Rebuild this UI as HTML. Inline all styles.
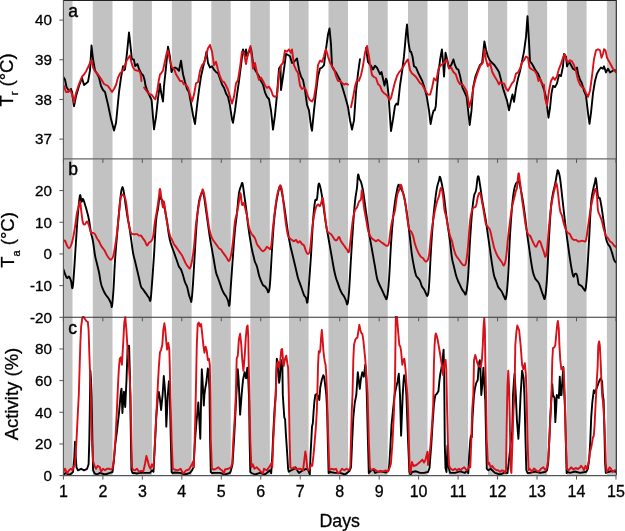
<!DOCTYPE html>
<html><head><meta charset="utf-8"><style>
html,body{margin:0;padding:0;background:#fff;}
body{width:625px;height:531px;overflow:hidden;}
svg{display:block;}
.t{font-family:"Liberation Sans",Arial,sans-serif;font-size:16px;fill:#000;stroke:#000;stroke-width:0.3px;}
.l{font-family:"Liberation Sans",Arial,sans-serif;font-size:18.5px;fill:#000;stroke:#000;stroke-width:0.3px;}
.p{font-family:"Liberation Sans",Arial,sans-serif;font-size:17.5px;fill:#000;stroke:#000;stroke-width:0.4px;}
</style></head><body>
<svg width="625" height="531" viewBox="0 0 625 531">
<defs>
<clipPath id="ca"><rect x="63.4" y="0.3" width="552.5799999999999" height="158.6"/></clipPath>
<clipPath id="cb"><rect x="63.4" y="158.9" width="552.5799999999999" height="158.4"/></clipPath>
<clipPath id="cc"><rect x="63.4" y="316.1" width="552.5799999999999" height="159.5"/></clipPath>
</defs>
<rect x="0" y="0" width="625" height="531" fill="#fff"/>
<rect x="63.50" y="0.3" width="9.00" height="475.30" fill="#c2c2c2"/>
<rect x="92.80" y="0.3" width="19.70" height="475.30" fill="#c2c2c2"/>
<rect x="132.80" y="0.3" width="19.10" height="475.30" fill="#c2c2c2"/>
<rect x="171.90" y="0.3" width="19.70" height="475.30" fill="#c2c2c2"/>
<rect x="211.30" y="0.3" width="19.40" height="475.30" fill="#c2c2c2"/>
<rect x="250.30" y="0.3" width="19.50" height="475.30" fill="#c2c2c2"/>
<rect x="289.00" y="0.3" width="19.60" height="475.30" fill="#c2c2c2"/>
<rect x="328.50" y="0.3" width="19.50" height="475.30" fill="#c2c2c2"/>
<rect x="368.00" y="0.3" width="19.70" height="475.30" fill="#c2c2c2"/>
<rect x="408.00" y="0.3" width="19.50" height="475.30" fill="#c2c2c2"/>
<rect x="448.60" y="0.3" width="19.40" height="475.30" fill="#c2c2c2"/>
<rect x="488.00" y="0.3" width="19.20" height="475.30" fill="#c2c2c2"/>
<rect x="527.60" y="0.3" width="19.55" height="475.30" fill="#c2c2c2"/>
<rect x="566.90" y="0.3" width="19.70" height="475.30" fill="#c2c2c2"/>
<rect x="606.90" y="0.3" width="9.08" height="475.30" fill="#c2c2c2"/>
<path d="M63.5 77.2 L65.0 79.7 L66.5 87.0 L69.0 91.0 L71.0 89.0 L72.0 92.0 L74.0 106.2 L76.0 96.3 L79.0 86.0 L82.0 78.0 L84.0 85.0 L86.0 83.4 L88.0 81.8 L90.0 70.4 L91.5 45.5 L93.0 59.0 L95.0 70.4 L97.0 73.5 L99.0 77.6 L101.0 86.0 L103.0 90.0 L105.0 92.0 L108.0 104.6 L111.0 119.0 L114.0 130.5 L116.0 123.0 L117.0 113.0 L119.0 92.0 L121.0 77.6 L123.0 66.3 L124.0 70.4 L125.0 69.4 L127.0 52.8 L129.0 32.5 L130.3 44.0 L131.9 59.4 L133.8 59.4 L135.2 66.0 L137.5 64.1 L138.9 68.8 L141.3 73.5 L143.2 75.4 L144.6 80.1 L145.5 85.7 L146.9 89.5 L148.8 94.2 L150.2 97.0 L151.6 100.0 L154.0 129.4 L156.0 117.0 L158.0 98.4 L160.0 83.9 L161.0 92.0 L163.0 101.5 L164.0 86.0 L166.0 67.3 L168.0 46.6 L170.0 57.0 L171.5 72.0 L173.0 68.6 L175.0 67.5 L177.0 68.6 L179.0 70.8 L181.0 60.7 L183.0 74.2 L185.0 82.0 L187.0 89.0 L189.0 92.3 L191.0 103.6 L193.0 115.0 L195.0 124.0 L197.0 105.9 L199.0 90.0 L201.0 76.5 L203.0 67.5 L205.0 59.5 L206.5 51.6 L208.0 63.0 L210.0 67.5 L212.0 66.3 L214.0 69.7 L216.0 72.0 L218.0 73.1 L220.0 78.8 L222.0 84.4 L224.0 87.8 L226.0 93.4 L228.0 96.8 L230.0 105.9 L232.0 119.4 L233.0 122.8 L235.0 110.4 L237.0 94.6 L239.0 81.0 L241.0 65.2 L243.0 49.4 L245.0 56.0 L246.0 49.4 L247.0 56.0 L249.0 51.6 L251.0 48.2 L253.0 63.0 L255.0 69.7 L257.0 73.1 L259.0 76.5 L261.0 81.0 L263.0 84.4 L265.0 92.3 L267.0 96.8 L269.0 99.0 L271.0 110.4 L273.0 129.6 L275.0 115.0 L277.0 94.6 L279.0 68.6 L280.5 66.3 L281.0 90.0 L283.0 76.5 L285.0 61.8 L286.0 53.9 L288.0 55.0 L290.0 56.2 L292.0 63.0 L294.0 61.8 L296.0 59.5 L297.0 58.4 L299.0 69.7 L301.0 76.5 L303.0 79.9 L305.0 90.0 L307.0 104.7 L309.0 110.4 L311.0 126.2 L312.0 130.7 L314.0 110.4 L316.0 92.3 L318.0 76.5 L320.0 68.6 L322.0 67.5 L324.0 65.2 L326.0 49.2 L328.0 34.5 L329.5 28.4 L331.0 44.3 L332.0 66.3 L334.0 70.0 L336.0 72.4 L338.0 76.1 L340.0 80.0 L342.0 86.0 L345.0 96.0 L348.0 107.0 L350.0 120.2 L352.0 129.5 L354.0 120.4 L356.0 92.0 L358.0 73.3 L360.0 59.2 M366.0 48.0 L368.0 62.0 L371.0 65.8 L373.0 69.5 L375.0 65.8 L377.0 67.7 L380.0 74.2 L381.5 72.0 L383.0 78.8 L384.5 85.5 L386.0 78.8 L387.0 81.0 L388.5 94.6 L390.0 117.0 L391.0 131.0 L393.0 119.4 L395.0 105.9 L396.5 103.6 L398.0 104.7 L400.0 85.5 L402.0 72.0 L404.0 56.2 L406.0 33.6 L407.0 24.5 L408.5 42.6 L410.0 51.6 L411.0 51.6 L412.5 56.5 L414.0 66.3 L416.0 67.5 L418.0 72.4 L420.0 76.5 L422.3 81.0 L424.5 87.8 L426.8 96.8 L429.0 110.4 L430.6 124.0 L432.4 114.9 L433.6 110.4 L434.7 110.4 L435.8 105.9 L437.0 87.8 L438.5 72.0 L440.3 58.4 L441.9 49.4 L443.3 65.2 L444.0 76.5 L444.9 63.0 L445.5 52.8 L447.1 59.5 L448.9 67.5 L451.2 65.2 L453.4 59.5 L455.0 65.2 L456.6 68.6 L458.4 69.7 L460.2 76.5 L462.5 87.8 L464.7 92.3 L466.6 96.8 L468.1 110.4 L469.7 125.0 L471.5 110.4 L473.1 87.8 L475.4 76.5 L477.6 70.8 L479.9 65.2 L482.1 63.0 L484.4 41.5 L486.0 49.4 L487.8 56.2 L490.0 60.7 L492.3 63.0 L494.6 65.2 L496.8 68.6 L499.0 72.0 L501.0 79.8 L503.0 88.3 L505.0 94.5 L507.0 100.6 L509.0 110.4 L511.0 100.6 L512.5 94.5 L514.0 101.8 L516.0 88.3 L518.0 78.5 L520.0 71.2 L522.0 61.4 L524.0 51.6 L526.0 36.9 L527.5 16.1 L529.0 41.8 L530.0 61.4 L532.0 63.9 L534.0 67.5 L536.0 71.2 L538.0 73.6 L540.0 78.5 L542.0 83.4 L544.0 89.6 L546.0 96.9 L547.5 110.0 L548.5 117.7 L550.0 108.0 L551.5 93.2 L553.0 85.9 L555.0 87.1 L557.0 83.4 L559.0 74.9 L561.0 76.1 L563.0 66.3 L564.0 54.0 L566.0 56.5 L567.0 66.3 L569.0 61.4 L571.0 65.0 L573.0 68.8 L575.0 70.0 L577.0 67.5 L578.0 73.6 L580.0 79.8 L582.0 83.4 L584.0 90.8 L586.0 95.7 L588.0 112.8 L589.5 123.8 L591.0 112.8 L593.0 93.2 L595.0 81.0 L597.0 73.6 L599.0 70.0 L601.0 67.5 L603.0 68.8 L604.0 66.3 L606.0 72.4 L608.0 68.8 L610.0 72.4 L612.0 71.2 L614.0 70.0 L616.0 70.7" fill="none" stroke="#000" stroke-width="1.9" stroke-linejoin="round" stroke-linecap="round" clip-path="url(#ca)"/>
<path d="M63.5 85.0 L66.0 92.0 L68.0 92.0 L70.0 90.0 L72.0 94.0 L74.0 102.5 L76.0 93.0 L79.0 84.0 L82.0 76.6 L84.0 74.5 L86.0 71.4 L88.0 67.3 L90.0 63.0 L91.5 60.0 L93.0 67.3 L95.0 71.4 L98.0 74.5 L101.0 78.7 L104.0 84.0 L106.0 85.0 L108.0 86.0 L110.0 89.0 L112.0 92.0 L114.0 89.0 L116.0 85.0 L118.0 77.6 L120.0 73.5 L121.0 72.5 L123.0 70.4 L125.0 65.2 L127.0 60.0 L129.0 57.0 L130.0 55.6 L131.4 62.2 L132.8 66.9 L134.7 69.8 L137.1 70.7 L138.9 70.7 L140.3 73.0 L141.1 77.3 L141.4 81.0 M144.1 87.6 L145.5 89.5 L147.4 92.3 L149.8 94.2 L152.1 95.2 L154.0 98.0 L155.4 99.4 L157.3 90.5 L158.7 81.0 L160.0 74.5 L161.0 73.5 L163.0 70.4 L165.0 61.0 L167.0 51.8 L168.0 50.7 L170.0 61.0 L172.0 67.5 L174.0 68.6 L176.0 74.2 L178.0 77.6 L180.0 81.0 L182.0 81.0 L184.0 84.4 L186.0 84.4 L188.0 87.8 L190.0 94.6 L192.0 101.4 L194.0 94.6 L196.0 83.3 L198.0 82.1 L200.0 70.8 L202.0 65.2 L204.0 63.0 L206.0 56.2 L208.0 48.2 L210.0 44.9 L212.0 51.6 L214.0 65.2 L216.0 61.8 L218.0 69.7 L220.0 76.5 L222.0 81.0 L224.0 82.1 L226.0 85.5 L228.0 90.0 L230.0 96.8 L232.0 103.6 L234.0 96.8 L236.0 83.3 L238.0 79.9 L240.0 67.5 L242.0 51.6 L244.0 52.8 L246.0 64.0 L247.0 58.4 L249.0 50.5 L250.5 46.0 L252.0 58.4 L253.0 68.6 L255.0 63.0 L257.0 73.1 L259.0 79.9 L261.0 77.6 L263.0 81.0 L265.0 85.5 L267.0 87.8 L269.0 86.7 L271.0 90.0 L273.0 95.7 L275.0 96.8 L277.0 95.7 L279.0 74.2 L281.0 65.2 L283.0 63.0 L285.0 50.5 L287.0 51.6 L289.0 49.4 L291.0 52.8 L292.0 49.4 L294.0 65.2 L296.0 69.7 L298.0 73.1 L300.0 85.5 L302.0 89.0 L304.0 87.8 L306.0 90.0 L308.0 96.8 L310.0 100.2 L312.0 101.4 L314.0 98.0 L316.0 85.5 L318.0 65.2 L320.0 60.7 L322.0 61.8 L324.0 56.2 L325.0 51.6 L326.0 49.2 L328.0 56.5 L330.0 62.6 L332.0 66.3 L334.0 68.8 L336.0 76.1 L338.0 81.0 L340.0 81.0 L342.0 82.7 L344.0 84.6 L346.0 83.7 L348.0 84.6 M351.0 107.2 L353.0 97.8 L355.0 86.5 L357.0 79.9 L359.0 80.8 L361.0 75.2 L363.0 65.8 L365.0 52.6 L367.0 46.0 L369.0 56.4 L370.0 63.9 L372.0 75.0 L374.0 77.0 L376.0 78.0 L378.0 84.0 L380.0 85.9 L382.0 90.8 L384.0 93.2 L386.0 94.5 L388.0 96.8 L389.5 100.2 L391.0 98.0 L393.0 90.0 L395.0 82.1 L397.0 76.0 L399.0 72.4 L401.0 70.0 L403.0 67.0 L405.0 63.5 L407.0 60.5 L408.0 59.5 L410.0 70.0 L412.0 73.5 L414.0 75.0 L416.0 77.0 L418.0 79.9 L420.0 83.0 L422.0 84.5 L424.0 88.0 L426.0 92.0 L428.0 94.5 L430.2 94.6 L432.0 88.0 L434.0 78.3 L436.3 80.6 L438.5 68.6 L440.8 65.2 L442.6 64.0 L444.9 61.8 L446.7 59.5 L448.9 68.6 L451.2 67.5 L453.4 72.0 L455.7 74.2 L458.0 81.0 L460.2 84.4 L462.5 84.4 L464.7 87.8 L467.0 92.3 L469.3 107.0 L471.5 99.0 L473.8 85.5 L476.0 77.6 L478.3 70.8 L480.5 65.2 L482.8 63.0 L484.4 49.4 L486.0 59.5 L487.8 66.3 L490.0 63.0 L492.3 72.0 L494.6 76.5 L496.8 79.9 L499.0 84.4 L500.0 82.2 L502.0 83.4 L504.0 83.4 L506.0 88.3 L508.0 90.8 L510.0 87.1 L512.0 83.4 L514.0 81.0 L516.0 73.6 L518.0 72.4 L520.0 68.8 L522.0 62.6 L524.0 60.2 L526.0 56.5 L528.0 57.7 L529.5 67.5 L531.0 68.8 L533.0 70.0 L535.0 71.2 L537.0 74.9 L538.5 81.0 L540.0 78.5 L542.0 84.7 L544.0 84.7 L545.0 98.1 L547.0 105.5 L549.0 90.8 L551.0 81.0 L553.0 77.3 L555.0 79.8 L557.0 76.1 L559.0 68.8 L561.0 63.9 L563.0 57.7 L564.5 54.0 L566.0 59.0 L568.0 62.6 L570.0 60.2 L572.0 61.4 L574.0 65.0 L576.0 71.2 L578.0 79.8 L580.0 84.7 L582.0 87.1 L584.0 88.3 L586.0 93.2 L588.0 96.9 L590.0 90.8 L592.0 76.1 L594.0 59.0 L596.0 50.4 L598.0 49.2 L600.0 50.4 L601.5 57.7 L603.0 54.0 L604.0 49.2 L605.5 50.4 L607.0 57.7 L609.0 61.4 L611.0 65.0 L613.0 68.8 L616.0 72.4" fill="none" stroke="#d8101a" stroke-width="1.9" stroke-linejoin="round" stroke-linecap="round" clip-path="url(#ca)"/>
<path d="M63.50 269.50 C63.80 270.36 64.30 272.10 65.00 273.80 C65.70 275.50 66.20 277.44 67.00 278.00 C67.80 278.56 68.20 276.04 69.00 276.60 C69.80 277.16 70.30 278.54 71.00 280.80 C71.70 283.06 71.90 289.60 72.50 287.90 C73.10 286.20 73.30 281.62 74.00 272.30 C74.70 262.98 75.20 253.16 76.00 241.30 C76.80 229.44 77.20 222.16 78.00 213.00 C78.80 203.84 79.30 197.76 80.00 195.50 C80.70 193.24 80.90 201.02 81.50 201.70 C82.10 202.38 82.30 198.34 83.00 198.90 C83.70 199.46 84.20 201.96 85.00 204.50 C85.80 207.04 86.20 208.50 87.00 211.60 C87.80 214.70 88.20 215.76 89.00 220.00 C89.80 224.24 90.20 228.54 91.00 232.80 C91.80 237.06 92.20 236.78 93.00 241.30 C93.80 245.82 94.20 250.88 95.00 255.40 C95.80 259.92 96.20 260.52 97.00 263.90 C97.80 267.28 98.20 268.36 99.00 272.30 C99.80 276.24 100.20 280.20 101.00 283.60 C101.80 287.00 102.20 287.32 103.00 289.30 C103.80 291.28 104.20 292.08 105.00 293.50 C105.80 294.92 106.20 295.26 107.00 296.40 C107.80 297.54 108.20 297.80 109.00 299.20 C109.80 300.60 110.40 302.00 111.00 303.40 C111.60 304.80 111.50 309.02 112.00 306.20 C112.50 303.38 112.90 298.34 113.50 289.30 C114.10 280.26 114.30 271.74 115.00 261.00 C115.70 250.26 116.20 245.20 117.00 235.60 C117.80 226.00 118.20 221.48 119.00 213.00 C119.80 204.52 120.30 198.40 121.00 193.20 C121.70 188.00 121.90 187.00 122.50 187.00 C123.10 187.00 123.30 189.12 124.00 193.20 C124.70 197.28 125.20 202.04 126.00 207.40 C126.80 212.76 127.40 216.62 128.00 220.00 C128.60 223.38 128.40 220.62 129.00 224.30 C129.60 227.98 130.20 232.74 131.00 238.40 C131.80 244.06 132.20 248.08 133.00 252.60 C133.80 257.12 134.20 257.62 135.00 261.00 C135.80 264.38 136.20 266.10 137.00 269.50 C137.80 272.90 138.20 274.60 139.00 278.00 C139.80 281.40 140.20 284.24 141.00 286.50 C141.80 288.76 142.20 288.18 143.00 289.30 C143.80 290.42 144.20 290.96 145.00 292.10 C145.80 293.24 146.20 293.86 147.00 295.00 C147.80 296.14 148.30 296.80 149.00 297.80 C149.70 298.80 149.90 302.84 150.50 300.00 C151.10 297.16 151.30 292.52 152.00 283.60 C152.70 274.68 153.20 267.82 154.00 255.40 C154.80 242.98 155.20 230.82 156.00 221.50 C156.80 212.18 157.30 213.60 158.00 208.80 C158.70 204.00 158.90 199.48 159.50 197.50 C160.10 195.52 160.30 198.06 161.00 198.90 C161.70 199.74 162.20 199.44 163.00 201.70 C163.80 203.96 164.20 206.24 165.00 210.20 C165.80 214.16 166.20 216.42 167.00 221.50 C167.80 226.58 168.20 231.08 169.00 235.60 C169.80 240.12 170.20 241.28 171.00 244.10 C171.80 246.92 172.20 247.44 173.00 249.70 C173.80 251.96 174.20 253.14 175.00 255.40 C175.80 257.66 176.20 258.74 177.00 261.00 C177.80 263.26 178.20 265.00 179.00 266.70 C179.80 268.40 180.20 267.80 181.00 269.50 C181.80 271.20 182.20 272.66 183.00 275.20 C183.80 277.74 184.20 279.94 185.00 282.20 C185.80 284.46 186.20 283.94 187.00 286.50 C187.80 289.06 188.30 292.46 189.00 295.00 C189.70 297.54 190.00 298.08 190.50 299.20 C191.00 300.32 191.00 303.72 191.50 300.60 C192.00 297.48 192.30 293.78 193.00 283.60 C193.70 273.42 194.20 262.68 195.00 249.70 C195.80 236.72 196.20 228.30 197.00 218.70 C197.80 209.10 198.20 206.50 199.00 201.70 C199.80 196.90 200.30 196.68 201.00 194.70 C201.70 192.72 201.90 191.52 202.50 191.80 C203.10 192.08 203.30 192.42 204.00 196.10 C204.70 199.78 205.20 204.56 206.00 210.20 C206.80 215.84 207.20 218.66 208.00 224.30 C208.80 229.94 209.20 233.32 210.00 238.40 C210.80 243.48 211.20 245.18 212.00 249.70 C212.80 254.22 213.20 256.48 214.00 261.00 C214.80 265.52 215.20 268.90 216.00 272.30 C216.80 275.70 217.20 275.74 218.00 278.00 C218.80 280.26 219.20 281.34 220.00 283.60 C220.80 285.86 221.20 287.32 222.00 289.30 C222.80 291.28 223.20 292.08 224.00 293.50 C224.80 294.92 225.20 294.98 226.00 296.40 C226.80 297.82 227.30 298.92 228.00 300.60 C228.70 302.28 228.90 308.20 229.50 304.80 C230.10 301.40 230.30 293.48 231.00 283.60 C231.70 273.72 232.20 266.12 233.00 255.40 C233.80 244.68 234.20 238.48 235.00 230.00 C235.80 221.52 236.20 220.36 237.00 213.00 C237.80 205.64 238.20 198.56 239.00 193.20 C239.80 187.84 240.30 188.16 241.00 186.20 C241.70 184.24 241.90 182.00 242.50 183.40 C243.10 184.80 243.30 188.40 244.00 193.20 C244.70 198.00 245.20 201.18 246.00 207.40 C246.80 213.62 247.20 218.10 248.00 224.30 C248.80 230.50 249.20 233.32 250.00 238.40 C250.80 243.48 251.20 245.74 252.00 249.70 C252.80 253.66 253.40 255.74 254.00 258.20 C254.60 260.66 254.40 260.30 255.00 262.00 C255.60 263.70 256.20 264.06 257.00 266.70 C257.80 269.34 258.20 272.38 259.00 275.20 C259.80 278.02 260.20 278.82 261.00 280.80 C261.80 282.78 262.20 283.96 263.00 285.10 C263.80 286.24 264.20 285.66 265.00 286.50 C265.80 287.34 266.30 288.18 267.00 289.30 C267.70 290.42 267.90 293.24 268.50 292.10 C269.10 290.96 269.30 292.08 270.00 283.60 C270.70 275.12 271.20 262.12 272.00 249.70 C272.80 237.28 273.20 230.54 274.00 221.50 C274.80 212.46 275.20 210.16 276.00 204.50 C276.80 198.84 277.20 196.86 278.00 193.20 C278.80 189.54 279.20 186.20 280.00 186.20 C280.80 186.20 281.20 189.54 282.00 193.20 C282.80 196.86 283.20 199.40 284.00 204.50 C284.80 209.60 285.20 213.04 286.00 218.70 C286.80 224.36 287.20 227.72 288.00 232.80 C288.80 237.88 289.20 240.14 290.00 244.10 C290.80 248.06 291.20 249.22 292.00 252.60 C292.80 255.98 293.20 257.62 294.00 261.00 C294.80 264.38 295.20 266.10 296.00 269.50 C296.80 272.90 297.20 275.18 298.00 278.00 C298.80 280.82 299.20 281.34 300.00 283.60 C300.80 285.86 301.20 287.02 302.00 289.30 C302.80 291.58 303.20 293.30 304.00 295.00 C304.80 296.70 305.30 296.40 306.00 297.80 C306.70 299.20 306.90 304.84 307.50 302.00 C308.10 299.16 308.30 292.92 309.00 283.60 C309.70 274.28 310.20 267.82 311.00 255.40 C311.80 242.98 312.20 232.24 313.00 221.50 C313.80 210.76 314.20 206.22 315.00 201.70 C315.80 197.18 316.30 202.28 317.00 198.90 C317.70 195.52 317.90 187.38 318.50 184.80 C319.10 182.22 319.30 183.74 320.00 186.00 C320.70 188.26 321.20 191.26 322.00 196.10 C322.80 200.94 323.20 204.56 324.00 210.20 C324.80 215.84 325.20 219.22 326.00 224.30 C326.80 229.38 327.20 231.08 328.00 235.60 C328.80 240.12 329.20 242.38 330.00 246.90 C330.80 251.42 331.20 253.68 332.00 258.20 C332.80 262.72 333.20 265.54 334.00 269.50 C334.80 273.46 335.20 275.18 336.00 278.00 C336.80 280.82 337.20 281.34 338.00 283.60 C338.80 285.86 339.20 287.32 340.00 289.30 C340.80 291.28 341.20 292.08 342.00 293.50 C342.80 294.92 343.20 294.98 344.00 296.40 C344.80 297.82 345.30 299.08 346.00 300.60 C346.70 302.12 346.90 305.70 347.50 304.00 C348.10 302.30 348.30 301.26 349.00 292.10 C349.70 282.94 350.20 271.20 351.00 258.20 C351.80 245.20 352.20 238.40 353.00 227.10 C353.80 215.80 354.20 209.60 355.00 201.70 C355.80 193.80 356.40 192.96 357.00 187.60 C357.60 182.24 357.50 176.60 358.00 174.90 C358.50 173.20 358.90 177.68 359.50 179.10 C360.10 180.52 360.30 179.74 361.00 182.00 C361.70 184.26 362.20 185.90 363.00 190.40 C363.80 194.90 364.20 198.84 365.00 204.50 C365.80 210.16 366.20 213.04 367.00 218.70 C367.80 224.36 368.20 227.72 369.00 232.80 C369.80 237.88 370.20 239.58 371.00 244.10 C371.80 248.62 372.20 250.88 373.00 255.40 C373.80 259.92 374.20 262.18 375.00 266.70 C375.80 271.22 376.20 274.62 377.00 278.00 C377.80 281.38 378.20 281.62 379.00 283.60 C379.80 285.58 380.20 286.20 381.00 287.90 C381.80 289.60 382.20 290.40 383.00 292.10 C383.80 293.80 384.20 295.26 385.00 296.40 C385.80 297.54 386.20 301.08 387.00 297.80 C387.80 294.52 388.20 290.74 389.00 280.00 C389.80 269.26 390.20 256.36 391.00 244.10 C391.80 231.84 392.20 227.18 393.00 218.70 C393.80 210.22 394.20 207.36 395.00 201.70 C395.80 196.04 396.30 193.78 397.00 190.40 C397.70 187.02 397.90 185.36 398.50 184.80 C399.10 184.24 399.30 186.48 400.00 187.60 C400.70 188.72 401.20 188.70 402.00 190.40 C402.80 192.10 403.20 192.70 404.00 196.10 C404.80 199.50 405.20 202.32 406.00 207.40 C406.80 212.48 407.20 215.30 408.00 221.50 C408.80 227.70 409.20 231.62 410.00 238.40 C410.80 245.18 411.20 249.74 412.00 255.40 C412.80 261.06 413.20 262.74 414.00 266.70 C414.80 270.66 415.20 272.94 416.00 275.20 C416.80 277.46 417.20 276.88 418.00 278.00 C418.80 279.12 419.20 279.10 420.00 280.80 C420.80 282.50 421.20 284.80 422.00 286.50 C422.80 288.20 423.20 287.90 424.00 289.30 C424.80 290.70 425.30 292.26 426.00 293.50 C426.70 294.74 426.90 296.90 427.50 295.50 C428.10 294.10 428.30 295.66 429.00 286.50 C429.70 277.34 430.20 262.70 431.00 249.70 C431.80 236.70 432.20 231.10 433.00 221.50 C433.80 211.90 434.20 208.48 435.00 201.70 C435.80 194.92 436.20 191.84 437.00 187.60 C437.80 183.36 438.40 182.64 439.00 180.50 C439.60 178.36 439.40 176.04 440.00 176.90 C440.60 177.76 441.20 180.96 442.00 184.80 C442.80 188.64 443.20 190.46 444.00 196.10 C444.80 201.74 445.20 206.80 446.00 213.00 C446.80 219.20 447.20 221.44 448.00 227.10 C448.80 232.76 449.20 235.08 450.00 241.30 C450.80 247.52 451.20 253.12 452.00 258.20 C452.80 263.28 453.20 263.30 454.00 266.70 C454.80 270.10 455.20 272.38 456.00 275.20 C456.80 278.02 457.20 278.82 458.00 280.80 C458.80 282.78 459.20 283.40 460.00 285.10 C460.80 286.80 461.20 287.90 462.00 289.30 C462.80 290.70 463.20 291.26 464.00 292.10 C464.80 292.94 465.20 296.32 466.00 293.50 C466.80 290.68 467.20 288.44 468.00 278.00 C468.80 267.56 469.20 254.30 470.00 241.30 C470.80 228.30 471.20 222.04 472.00 213.00 C472.80 203.96 473.20 200.62 474.00 196.10 C474.80 191.58 475.20 194.36 476.00 190.40 C476.80 186.44 477.20 177.42 478.00 176.30 C478.80 175.18 479.20 180.28 480.00 184.80 C480.80 189.32 481.20 193.82 482.00 198.90 C482.80 203.98 483.20 205.68 484.00 210.20 C484.80 214.72 485.20 216.42 486.00 221.50 C486.80 226.58 487.20 229.96 488.00 235.60 C488.80 241.24 489.20 244.04 490.00 249.70 C490.80 255.36 491.20 258.80 492.00 263.90 C492.80 269.00 493.20 271.82 494.00 275.20 C494.80 278.58 495.20 278.54 496.00 280.80 C496.80 283.06 497.20 284.80 498.00 286.50 C498.80 288.20 499.20 288.18 500.00 289.30 C500.80 290.42 501.20 290.68 502.00 292.10 C502.80 293.52 503.20 295.26 504.00 296.40 C504.80 297.54 505.20 301.48 506.00 297.80 C506.80 294.12 507.20 290.44 508.00 278.00 C508.80 265.56 509.20 249.72 510.00 235.60 C510.80 221.48 511.20 216.44 512.00 207.40 C512.80 198.36 513.20 195.20 514.00 190.40 C514.80 185.60 515.20 185.08 516.00 183.40 C516.80 181.72 517.40 182.28 518.00 182.00 C518.60 181.72 518.40 180.32 519.00 182.00 C519.60 183.68 520.20 186.46 521.00 190.40 C521.80 194.34 522.20 196.62 523.00 201.70 C523.80 206.78 524.20 209.58 525.00 215.80 C525.80 222.02 526.20 226.58 527.00 232.80 C527.80 239.02 528.20 241.26 529.00 246.90 C529.80 252.54 530.20 255.92 531.00 261.00 C531.80 266.08 532.20 268.90 533.00 272.30 C533.80 275.70 534.20 276.30 535.00 278.00 C535.80 279.70 536.20 279.68 537.00 280.80 C537.80 281.92 538.20 281.90 539.00 283.60 C539.80 285.30 540.20 287.02 541.00 289.30 C541.80 291.58 542.20 293.30 543.00 295.00 C543.80 296.70 544.20 301.20 545.00 297.80 C545.80 294.40 546.20 289.88 547.00 278.00 C547.80 266.12 548.20 252.52 549.00 238.40 C549.80 224.28 550.20 216.44 551.00 207.40 C551.80 198.36 552.20 197.72 553.00 193.20 C553.80 188.68 554.20 188.74 555.00 184.80 C555.80 180.86 556.40 176.34 557.00 173.50 C557.60 170.66 557.40 169.70 558.00 170.60 C558.60 171.50 559.20 173.12 560.00 178.00 C560.80 182.88 561.20 188.00 562.00 195.00 C562.80 202.00 563.20 206.00 564.00 213.00 C564.80 220.00 565.20 223.60 566.00 230.00 C566.80 236.40 567.20 239.20 568.00 245.00 C568.80 250.80 569.20 253.80 570.00 259.00 C570.80 264.20 571.30 267.48 572.00 271.00 C572.70 274.52 572.90 276.04 573.50 276.60 C574.10 277.16 574.30 274.08 575.00 273.80 C575.70 273.52 576.30 273.24 577.00 275.20 C577.70 277.16 577.90 281.62 578.50 283.60 C579.10 285.58 579.30 284.52 580.00 285.10 C580.70 285.68 581.20 285.66 582.00 286.50 C582.80 287.34 583.30 288.70 584.00 289.30 C584.70 289.90 584.90 292.32 585.50 289.50 C586.10 286.68 586.30 284.84 587.00 275.20 C587.70 265.56 588.20 255.44 589.00 241.30 C589.80 227.16 590.20 214.68 591.00 204.50 C591.80 194.32 592.20 194.90 593.00 190.40 C593.80 185.90 594.40 184.26 595.00 182.00 C595.60 179.74 595.40 176.28 596.00 179.10 C596.60 181.92 597.20 192.14 598.00 196.10 C598.80 200.06 599.20 196.08 600.00 198.90 C600.80 201.72 601.20 205.12 602.00 210.20 C602.80 215.28 603.20 218.66 604.00 224.30 C604.80 229.94 605.20 234.44 606.00 238.40 C606.80 242.36 607.20 242.40 608.00 244.10 C608.80 245.80 609.20 245.20 610.00 246.90 C610.80 248.60 611.20 250.06 612.00 252.60 C612.80 255.14 613.20 257.62 614.00 259.60 C614.80 261.58 615.60 261.92 616.00 262.50" fill="none" stroke="#000" stroke-width="1.9" stroke-linejoin="round" stroke-linecap="round" clip-path="url(#cb)"/>
<path d="M63.50 241.30 C63.80 241.18 64.30 239.86 65.00 240.70 C65.70 241.54 66.20 243.98 67.00 245.50 C67.80 247.02 68.20 248.30 69.00 248.30 C69.80 248.30 70.20 247.48 71.00 245.50 C71.80 243.52 72.20 242.08 73.00 238.40 C73.80 234.72 74.20 232.18 75.00 227.10 C75.80 222.02 76.30 216.94 77.00 213.00 C77.70 209.06 77.90 209.66 78.50 207.40 C79.10 205.14 79.40 200.58 80.00 201.70 C80.60 202.82 80.90 208.76 81.50 213.00 C82.10 217.24 82.30 220.64 83.00 222.90 C83.70 225.16 84.20 224.58 85.00 224.30 C85.80 224.02 86.20 221.22 87.00 221.50 C87.80 221.78 88.20 223.44 89.00 225.70 C89.80 227.96 90.20 231.38 91.00 232.80 C91.80 234.22 92.20 232.52 93.00 232.80 C93.80 233.08 94.20 233.08 95.00 234.20 C95.80 235.32 96.20 236.98 97.00 238.40 C97.80 239.82 98.20 239.88 99.00 241.30 C99.80 242.72 100.20 244.10 101.00 245.50 C101.80 246.90 102.20 247.16 103.00 248.30 C103.80 249.44 104.20 249.78 105.00 251.20 C105.80 252.62 106.20 254.00 107.00 255.40 C107.80 256.80 108.20 257.36 109.00 258.20 C109.80 259.04 110.20 259.88 111.00 259.60 C111.80 259.32 112.20 259.34 113.00 256.80 C113.80 254.26 114.20 251.70 115.00 246.90 C115.80 242.10 116.20 239.58 117.00 232.80 C117.80 226.02 118.30 219.78 119.00 213.00 C119.70 206.22 119.90 202.56 120.50 198.90 C121.10 195.24 121.30 195.26 122.00 194.70 C122.70 194.14 123.20 194.70 124.00 196.10 C124.80 197.50 125.20 197.18 126.00 201.70 C126.80 206.22 127.40 213.90 128.00 218.70 C128.60 223.50 128.40 222.88 129.00 225.70 C129.60 228.52 130.20 231.10 131.00 232.80 C131.80 234.50 132.20 233.92 133.00 234.20 C133.80 234.48 134.20 234.20 135.00 234.20 C135.80 234.20 136.20 233.92 137.00 234.20 C137.80 234.48 138.20 235.32 139.00 235.60 C139.80 235.88 140.20 235.04 141.00 235.60 C141.80 236.16 142.20 237.26 143.00 238.40 C143.80 239.54 144.20 239.88 145.00 241.30 C145.80 242.72 146.20 245.22 147.00 245.50 C147.80 245.78 148.20 243.54 149.00 242.70 C149.80 241.86 150.20 242.44 151.00 241.30 C151.80 240.16 152.20 240.96 153.00 237.00 C153.80 233.04 154.20 226.86 155.00 221.50 C155.80 216.14 156.20 215.28 157.00 210.20 C157.80 205.12 158.40 200.34 159.00 196.10 C159.60 191.86 159.50 188.44 160.00 189.00 C160.50 189.56 160.90 195.22 161.50 198.90 C162.10 202.58 162.50 206.84 163.00 207.40 C163.50 207.96 163.40 200.02 164.00 201.70 C164.60 203.38 165.20 210.72 166.00 215.80 C166.80 220.88 167.20 223.14 168.00 227.10 C168.80 231.06 169.20 233.04 170.00 235.60 C170.80 238.16 171.20 238.20 172.00 239.90 C172.80 241.60 173.20 242.70 174.00 244.10 C174.80 245.50 175.20 245.78 176.00 246.90 C176.80 248.02 177.20 248.56 178.00 249.70 C178.80 250.84 179.20 251.46 180.00 252.60 C180.80 253.74 181.20 254.00 182.00 255.40 C182.80 256.80 183.20 257.90 184.00 259.60 C184.80 261.30 185.20 262.48 186.00 263.90 C186.80 265.32 187.20 265.86 188.00 266.70 C188.80 267.54 189.20 269.24 190.00 268.10 C190.80 266.96 191.20 265.24 192.00 261.00 C192.80 256.76 193.20 254.24 194.00 246.90 C194.80 239.56 195.20 231.64 196.00 224.30 C196.80 216.96 197.20 215.28 198.00 210.20 C198.80 205.12 199.20 202.58 200.00 198.90 C200.80 195.22 201.40 193.60 202.00 191.80 C202.60 190.00 202.40 188.48 203.00 189.90 C203.60 191.32 204.20 194.28 205.00 198.90 C205.80 203.52 206.20 207.36 207.00 213.00 C207.80 218.64 208.20 222.58 209.00 227.10 C209.80 231.62 210.20 233.04 211.00 235.60 C211.80 238.16 212.20 238.48 213.00 239.90 C213.80 241.32 214.20 241.58 215.00 242.70 C215.80 243.82 216.20 244.38 217.00 245.50 C217.80 246.62 218.20 247.46 219.00 248.30 C219.80 249.14 220.20 248.84 221.00 249.70 C221.80 250.56 222.20 251.46 223.00 252.60 C223.80 253.74 224.20 254.28 225.00 255.40 C225.80 256.52 226.20 257.08 227.00 258.20 C227.80 259.32 228.20 261.56 229.00 261.00 C229.80 260.44 230.20 259.34 231.00 255.40 C231.80 251.46 232.20 248.08 233.00 241.30 C233.80 234.52 234.20 227.16 235.00 221.50 C235.80 215.84 236.20 216.96 237.00 213.00 C237.80 209.04 238.30 205.66 239.00 201.70 C239.70 197.74 239.90 192.64 240.50 193.20 C241.10 193.76 241.40 202.52 242.00 204.50 C242.60 206.48 242.90 202.52 243.50 203.10 C244.10 203.68 244.30 204.86 245.00 207.40 C245.70 209.94 246.20 211.86 247.00 215.80 C247.80 219.74 248.20 223.70 249.00 227.10 C249.80 230.50 250.20 231.10 251.00 232.80 C251.80 234.50 252.20 234.48 253.00 235.60 C253.80 236.72 254.20 236.70 255.00 238.40 C255.80 240.10 256.20 242.40 257.00 244.10 C257.80 245.80 258.20 245.78 259.00 246.90 C259.80 248.02 260.20 248.84 261.00 249.70 C261.80 250.56 262.20 251.20 263.00 251.20 C263.80 251.20 264.20 250.56 265.00 249.70 C265.80 248.84 266.20 247.18 267.00 246.90 C267.80 246.62 268.20 248.30 269.00 248.30 C269.80 248.30 270.20 251.14 271.00 246.90 C271.80 242.66 272.20 234.44 273.00 227.10 C273.80 219.76 274.20 216.40 275.00 210.20 C275.80 204.00 276.20 200.34 277.00 196.10 C277.80 191.86 278.30 191.16 279.00 189.00 C279.70 186.84 279.90 185.02 280.50 185.30 C281.10 185.58 281.30 185.98 282.00 190.40 C282.70 194.82 283.20 200.62 284.00 207.40 C284.80 214.18 285.20 218.66 286.00 224.30 C286.80 229.94 287.20 232.78 288.00 235.60 C288.80 238.42 289.20 237.54 290.00 238.40 C290.80 239.26 291.20 239.32 292.00 239.90 C292.80 240.48 293.20 241.30 294.00 241.30 C294.80 241.30 295.20 239.62 296.00 239.90 C296.80 240.18 297.20 242.42 298.00 242.70 C298.80 242.98 299.20 241.02 300.00 241.30 C300.80 241.58 301.20 243.26 302.00 244.10 C302.80 244.94 303.20 244.08 304.00 245.50 C304.80 246.92 305.20 249.50 306.00 251.20 C306.80 252.90 307.20 254.30 308.00 254.00 C308.80 253.70 309.20 254.50 310.00 249.70 C310.80 244.90 311.20 236.78 312.00 230.00 C312.80 223.22 313.20 220.32 314.00 215.80 C314.80 211.28 315.20 209.66 316.00 207.40 C316.80 205.14 317.20 204.78 318.00 204.50 C318.80 204.22 319.30 206.56 320.00 206.00 C320.70 205.44 320.90 203.12 321.50 201.70 C322.10 200.28 322.30 196.08 323.00 198.90 C323.70 201.72 324.20 209.58 325.00 215.80 C325.80 222.02 326.20 226.60 327.00 230.00 C327.80 233.40 328.20 231.96 329.00 232.80 C329.80 233.64 330.20 233.36 331.00 234.20 C331.80 235.04 332.20 235.86 333.00 237.00 C333.80 238.14 334.20 239.32 335.00 239.90 C335.80 240.48 336.20 240.48 337.00 239.90 C337.80 239.32 338.20 236.72 339.00 237.00 C339.80 237.28 340.20 239.88 341.00 241.30 C341.80 242.72 342.20 242.98 343.00 244.10 C343.80 245.22 344.20 245.78 345.00 246.90 C345.80 248.02 346.20 248.84 347.00 249.70 C347.80 250.56 348.20 254.02 349.00 251.20 C349.80 248.38 350.20 242.10 351.00 235.60 C351.80 229.10 352.20 223.78 353.00 218.70 C353.80 213.62 354.20 212.46 355.00 210.20 C355.80 207.94 356.20 209.10 357.00 207.40 C357.80 205.70 358.20 203.40 359.00 201.70 C359.80 200.00 360.40 201.16 361.00 198.90 C361.60 196.64 361.40 188.70 362.00 190.40 C362.60 192.10 363.20 201.74 364.00 207.40 C364.80 213.06 365.20 214.18 366.00 218.70 C366.80 223.22 367.20 226.62 368.00 230.00 C368.80 233.38 369.20 233.92 370.00 235.60 C370.80 237.28 371.20 237.54 372.00 238.40 C372.80 239.26 373.20 239.32 374.00 239.90 C374.80 240.48 375.20 241.30 376.00 241.30 C376.80 241.30 377.20 239.90 378.00 239.90 C378.80 239.90 379.20 240.74 380.00 241.30 C380.80 241.86 381.20 242.14 382.00 242.70 C382.80 243.26 383.20 243.54 384.00 244.10 C384.80 244.66 385.20 245.22 386.00 245.50 C386.80 245.78 387.40 246.06 388.00 245.50 C388.60 244.94 388.40 246.38 389.00 242.70 C389.60 239.02 390.20 232.18 391.00 227.10 C391.80 222.02 392.20 220.68 393.00 217.30 C393.80 213.92 394.20 214.44 395.00 210.20 C395.80 205.96 396.20 200.06 397.00 196.10 C397.80 192.14 398.20 192.66 399.00 190.40 C399.80 188.14 400.20 184.24 401.00 184.80 C401.80 185.36 402.20 189.82 403.00 193.20 C403.80 196.58 404.20 197.18 405.00 201.70 C405.80 206.22 406.20 210.42 407.00 215.80 C407.80 221.18 408.20 225.48 409.00 228.60 C409.80 231.72 410.20 230.00 411.00 231.40 C411.80 232.80 412.20 233.06 413.00 235.60 C413.80 238.14 414.20 241.28 415.00 244.10 C415.80 246.92 416.20 247.72 417.00 249.70 C417.80 251.68 418.20 252.58 419.00 254.00 C419.80 255.42 420.20 255.96 421.00 256.80 C421.80 257.64 422.20 257.36 423.00 258.20 C423.80 259.04 424.20 260.44 425.00 261.00 C425.80 261.56 426.20 262.12 427.00 261.00 C427.80 259.88 428.20 260.48 429.00 255.40 C429.80 250.32 430.20 242.38 431.00 235.60 C431.80 228.82 432.20 226.58 433.00 221.50 C433.80 216.42 434.20 214.16 435.00 210.20 C435.80 206.24 436.20 204.52 437.00 201.70 C437.80 198.88 438.20 198.92 439.00 196.10 C439.80 193.28 440.20 187.60 441.00 187.60 C441.80 187.60 442.30 191.58 443.00 196.10 C443.70 200.62 443.90 206.26 444.50 210.20 C445.10 214.14 445.30 212.42 446.00 215.80 C446.70 219.18 447.20 223.14 448.00 227.10 C448.80 231.06 449.20 232.76 450.00 235.60 C450.80 238.44 451.20 238.48 452.00 241.30 C452.80 244.12 453.20 246.88 454.00 249.70 C454.80 252.52 455.20 253.70 456.00 255.40 C456.80 257.10 457.20 257.08 458.00 258.20 C458.80 259.32 459.20 259.86 460.00 261.00 C460.80 262.14 461.20 263.04 462.00 263.90 C462.80 264.76 463.20 265.58 464.00 265.30 C464.80 265.02 465.20 266.18 466.00 262.50 C466.80 258.82 467.20 255.10 468.00 246.90 C468.80 238.70 469.20 228.84 470.00 221.50 C470.80 214.16 471.20 213.02 472.00 210.20 C472.80 207.38 473.20 208.24 474.00 207.40 C474.80 206.56 475.20 208.26 476.00 206.00 C476.80 203.74 477.20 198.66 478.00 196.10 C478.80 193.54 479.20 192.08 480.00 193.20 C480.80 194.32 481.20 197.74 482.00 201.70 C482.80 205.66 483.20 208.48 484.00 213.00 C484.80 217.52 485.20 221.48 486.00 224.30 C486.80 227.12 487.20 225.96 488.00 227.10 C488.80 228.24 489.20 227.74 490.00 230.00 C490.80 232.26 491.20 235.02 492.00 238.40 C492.80 241.78 493.20 244.06 494.00 246.90 C494.80 249.74 495.20 250.62 496.00 252.60 C496.80 254.58 497.20 255.40 498.00 256.80 C498.80 258.20 499.20 258.46 500.00 259.60 C500.80 260.74 501.20 261.36 502.00 262.50 C502.80 263.64 503.20 266.16 504.00 265.30 C504.80 264.44 505.20 263.58 506.00 258.20 C506.80 252.82 507.20 245.74 508.00 238.40 C508.80 231.06 509.20 227.70 510.00 221.50 C510.80 215.30 511.20 211.92 512.00 207.40 C512.80 202.88 513.20 202.30 514.00 198.90 C514.80 195.50 515.40 192.66 516.00 190.40 C516.60 188.14 516.50 190.98 517.00 187.60 C517.50 184.22 517.90 174.62 518.50 173.50 C519.10 172.38 519.30 176.92 520.00 182.00 C520.70 187.08 521.20 192.70 522.00 198.90 C522.80 205.10 523.20 207.36 524.00 213.00 C524.80 218.64 525.20 222.86 526.00 227.10 C526.80 231.34 527.20 232.50 528.00 234.20 C528.80 235.90 529.20 234.46 530.00 235.60 C530.80 236.74 531.20 238.20 532.00 239.90 C532.80 241.60 533.20 242.70 534.00 244.10 C534.80 245.50 535.20 247.18 536.00 246.90 C536.80 246.62 537.20 243.82 538.00 242.70 C538.80 241.58 539.20 240.46 540.00 241.30 C540.80 242.14 541.20 244.64 542.00 246.90 C542.80 249.16 543.30 250.62 544.00 252.60 C544.70 254.58 544.90 257.38 545.50 256.80 C546.10 256.22 546.30 255.64 547.00 249.70 C547.70 243.76 548.20 235.56 549.00 227.10 C549.80 218.64 550.20 213.60 551.00 207.40 C551.80 201.20 552.20 200.06 553.00 196.10 C553.80 192.14 554.30 190.14 555.00 187.60 C555.70 185.06 555.90 182.28 556.50 183.40 C557.10 184.52 557.30 187.88 558.00 193.20 C558.70 198.52 559.20 205.48 560.00 210.00 C560.80 214.52 561.20 212.94 562.00 215.80 C562.80 218.66 563.20 221.46 564.00 224.30 C564.80 227.14 565.20 228.30 566.00 230.00 C566.80 231.70 567.20 231.96 568.00 232.80 C568.80 233.64 569.20 233.08 570.00 234.20 C570.80 235.32 571.20 237.26 572.00 238.40 C572.80 239.54 573.20 239.60 574.00 239.90 C574.80 240.20 575.20 239.62 576.00 239.90 C576.80 240.18 577.20 241.02 578.00 241.30 C578.80 241.58 579.20 241.42 580.00 241.30 C580.80 241.18 581.20 240.70 582.00 240.70 C582.80 240.70 583.20 241.46 584.00 241.30 C584.80 241.14 585.20 242.74 586.00 239.90 C586.80 237.06 587.20 232.48 588.00 227.10 C588.80 221.72 589.20 218.08 590.00 213.00 C590.80 207.92 591.20 205.66 592.00 201.70 C592.80 197.74 593.30 195.74 594.00 193.20 C594.70 190.66 594.90 188.42 595.50 189.00 C596.10 189.58 596.50 191.86 597.00 196.10 C597.50 200.34 597.40 206.26 598.00 210.20 C598.60 214.14 599.20 213.54 600.00 215.80 C600.80 218.06 601.20 218.66 602.00 221.50 C602.80 224.34 603.20 227.18 604.00 230.00 C604.80 232.82 605.20 233.92 606.00 235.60 C606.80 237.28 607.20 237.26 608.00 238.40 C608.80 239.54 609.20 240.44 610.00 241.30 C610.80 242.16 611.20 241.86 612.00 242.70 C612.80 243.54 613.20 244.66 614.00 245.50 C614.80 246.34 615.60 246.62 616.00 246.90" fill="none" stroke="#d8101a" stroke-width="1.9" stroke-linejoin="round" stroke-linecap="round" clip-path="url(#cb)"/>
<path d="M63.5 474.5 L66.0 472.9 L68.0 474.5 L70.0 474.5 L72.0 472.9 L73.0 472.0 L74.3 458.0 L75.0 441.7 L75.8 458.0 L76.5 467.3 L78.0 470.3 L81.1 468.8 L84.1 470.3 L87.1 468.8 L88.6 464.3 L89.3 440.2 L89.8 410.0 L90.1 385.0 L90.4 370.7 L90.9 378.0 L91.6 395.0 L92.4 440.0 L93.1 470.3 L94.6 473.3 L97.0 474.5 L100.0 472.9 L105.0 474.5 L110.0 472.9 L112.5 472.0 L113.8 462.0 L115.2 445.0 L116.9 431.6 L119.0 413.0 L120.9 391.7 L121.5 388.6 L122.4 413.0 L123.9 391.7 L125.2 407.0 L126.5 380.0 L127.6 348.7 L128.4 346.0 L129.1 345.7 L129.9 375.0 L130.6 420.0 L131.4 470.0 L132.5 473.0 L134.0 472.9 L137.0 473.5 L140.0 472.9 L145.0 472.9 L150.0 472.9 L152.0 470.3 L153.5 471.8 L155.0 443.2 L156.2 417.6 L158.0 395.0 L158.8 392.0 L159.8 398.0 L161.1 410.0 L162.6 395.0 L163.8 376.0 L164.8 387.3 L165.6 400.0 L166.3 426.6 L167.8 395.0 L168.9 381.3 L169.8 395.0 L170.8 440.0 L171.6 472.0 L172.5 473.0 L175.0 472.5 L180.0 472.9 L185.0 474.5 L190.0 472.9 L192.0 470.3 L193.5 467.3 L195.0 440.2 L196.2 425.1 L197.3 413.0 L198.3 402.5 L199.6 425.1 L200.3 438.7 L200.9 410.0 L201.3 390.0 L201.8 369.2 L202.4 378.0 L203.3 395.0 L203.8 405.5 L204.4 395.0 L205.3 388.0 L206.3 382.8 L207.8 368.5 L208.6 372.0 L209.5 390.0 L210.1 440.0 L210.8 472.0 L212.0 473.0 L215.0 472.9 L220.0 472.9 L225.0 474.5 L230.0 472.9 L231.0 470.3 L232.5 464.3 L234.0 440.2 L235.2 417.6 L236.3 395.0 L237.8 369.2 L238.6 379.8 L239.3 395.0 L240.1 414.6 L241.6 395.0 L243.0 380.0 L244.6 372.2 L246.1 378.3 L247.3 367.7 L248.3 379.8 L249.1 400.0 L249.6 440.0 L250.3 472.0 L251.5 473.0 L255.0 474.5 L260.0 472.9 L265.0 474.5 L270.0 470.3 L271.2 473.3 L272.3 455.2 L273.3 432.6 L274.5 410.0 L275.7 395.0 L276.8 358.7 L277.9 363.2 L279.1 382.8 L279.8 378.3 L281.3 360.2 L282.4 367.7 L282.8 395.0 L284.3 417.6 L285.1 419.1 L285.8 432.6 L287.3 455.2 L288.1 468.8 L288.8 471.8 L291.1 470.3 L294.1 468.8 L295.6 467.3 L297.1 470.3 L299.0 472.9 L303.0 470.3 L306.0 468.8 L308.3 470.3 L309.8 474.8 L310.5 455.2 L311.3 440.2 L312.0 426.6 L312.8 423.6 L313.5 413.0 L314.3 402.5 L315.3 395.0 L316.5 394.0 L318.1 396.0 L319.3 400.0 L320.3 387.3 L321.8 379.8 L323.3 375.2 L324.1 376.7 L325.3 385.8 L326.3 395.0 L327.1 410.0 L327.8 440.2 L328.6 473.0 L330.0 472.0 L335.0 472.9 L340.0 472.9 L345.0 474.5 L349.5 471.0 L351.0 467.3 L352.2 440.2 L353.3 417.6 L354.8 402.5 L356.3 395.0 L357.8 372.2 L358.9 381.3 L359.8 388.8 L360.8 379.8 L362.3 372.2 L363.8 376.7 L364.6 370.7 L365.3 364.7 L366.1 375.2 L366.8 395.0 L367.9 440.2 L368.8 473.0 L370.6 471.0 L373.6 469.5 L375.0 472.9 L380.0 471.3 L386.0 472.5 L388.5 470.5 L389.3 464.3 L390.3 447.7 L391.5 425.1 L393.0 410.0 L394.6 395.0 L396.0 388.0 L397.5 382.0 L398.8 373.7 L400.0 395.0 L401.1 435.6 L402.7 395.0 L403.5 382.0 L404.1 375.2 L405.6 382.8 L406.4 395.0 L407.3 420.0 L408.1 441.9 L409.4 471.6 L410.5 474.7 L412.0 472.0 L416.0 471.3 L420.0 472.9 L424.0 472.9 L428.0 472.0 L429.5 468.0 L430.5 455.0 L431.3 445.0 L432.5 425.0 L433.9 405.0 L434.7 398.8 L435.4 395.0 L436.5 394.3 L438.4 391.3 L439.5 380.0 L440.3 374.0 L441.5 368.0 L442.5 360.0 L443.6 349.6 L444.1 370.0 L444.4 400.0 L444.8 445.0 L445.5 468.0 L446.5 472.0 L447.5 445.5 L448.5 466.7 L450.0 472.9 L455.0 472.9 L460.0 471.3 L465.0 472.9 L467.3 470.3 L468.3 473.3 L469.2 455.2 L470.3 440.2 L471.0 435.7 L471.8 437.2 L472.5 417.6 L474.0 395.0 L475.0 388.0 L476.3 382.8 L477.8 379.8 L478.9 363.2 L479.8 360.2 L480.4 367.7 L481.3 395.0 L482.3 385.0 L483.4 367.7 L484.3 382.8 L484.9 395.0 L485.3 400.0 L486.1 440.2 L486.8 468.8 L488.4 470.3 L490.6 468.8 L495.0 472.9 L500.0 474.5 L504.0 472.9 L505.0 472.5 L507.5 473.0 L509.0 460.0 L510.5 445.0 L511.4 436.0 L512.2 432.0 L513.0 395.0 L514.0 380.0 L514.6 373.7 L515.8 395.0 L516.9 420.0 L518.4 438.8 L519.5 420.0 L520.6 395.0 L522.1 370.7 L523.6 378.0 L524.4 395.0 L525.5 440.0 L526.3 470.0 L527.5 473.0 L530.0 472.9 L535.0 471.5 L540.0 472.9 L545.0 472.0 L547.0 470.3 L548.2 462.8 L549.3 440.2 L550.3 417.6 L551.3 400.0 L552.3 384.3 L553.0 395.0 L554.6 398.0 L555.3 422.1 L556.1 410.0 L556.8 395.0 L558.8 398.0 L559.8 376.7 L560.6 395.0 L561.5 395.0 L562.4 380.0 L563.3 367.0 L564.3 395.0 L565.1 410.0 L565.8 440.2 L566.6 473.0 L568.0 472.0 L570.0 472.9 L575.0 471.5 L580.0 472.9 L585.0 472.0 L586.3 471.8 L587.8 468.8 L589.3 458.3 L590.3 440.2 L591.2 417.6 L592.3 402.5 L593.8 390.3 L594.6 393.0 L596.0 390.0 L597.5 386.0 L599.1 381.3 L600.6 378.3 L602.1 381.3 L602.8 395.0 L603.6 400.0 L604.3 425.1 L605.1 462.8 L605.8 473.0 L608.0 472.0 L612.0 471.0 L616.5 472.0" fill="none" stroke="#000" stroke-width="1.9" stroke-linejoin="round" stroke-linecap="round" clip-path="url(#cc)"/>
<path d="M63.5 471.8 L65.0 468.7 L67.0 473.4 L69.0 470.3 L71.0 468.7 L72.5 470.3 L73.5 467.0 L75.0 464.3 L76.5 440.2 L78.0 410.0 L78.8 395.0 L80.3 345.0 L81.1 327.0 L82.3 318.0 L83.3 316.5 L84.8 318.8 L86.3 321.0 L87.8 321.8 L88.6 330.0 L89.3 352.7 L90.1 375.0 L90.8 395.0 L91.9 440.0 L93.1 461.3 L94.6 465.8 L96.1 468.8 L97.6 465.8 L99.9 467.3 L101.0 471.8 L103.0 468.7 L105.0 470.3 L107.0 468.7 L109.5 468.8 L111.0 469.5 L112.5 468.5 L114.0 458.0 L115.5 438.0 L116.9 410.0 L118.0 385.0 L118.9 368.0 L119.8 358.7 L120.8 357.2 L121.9 364.8 L123.1 345.0 L124.3 322.5 L125.3 317.3 L126.4 330.0 L127.3 345.0 L129.1 367.8 L130.6 395.0 L131.4 440.0 L132.1 467.3 L133.0 470.0 L135.0 470.3 L137.0 468.7 L139.0 471.8 L141.0 470.9 L143.3 471.5 L145.0 464.0 L146.4 456.0 L147.5 459.8 L149.0 465.8 L150.5 468.8 L152.0 464.3 L153.5 467.3 L155.0 440.2 L156.2 417.6 L157.3 395.0 L158.8 367.7 L159.9 352.7 L161.1 349.6 L162.3 345.0 L163.3 330.0 L164.4 323.3 L165.3 330.0 L166.3 342.0 L167.1 349.6 L168.3 342.9 L169.3 349.6 L169.8 367.7 L170.4 395.0 L171.6 440.0 L172.8 468.8 L174.6 469.5 L177.6 470.3 L180.6 468.8 L183.0 473.4 L185.0 471.8 L186.0 470.3 L189.0 469.5 L192.0 464.3 L193.2 461.3 L193.8 467.3 L194.7 440.2 L195.3 417.6 L195.8 395.0 L196.8 345.0 L197.7 324.0 L198.8 322.5 L199.9 326.3 L201.1 324.0 L202.3 334.6 L203.3 345.0 L204.4 352.7 L205.6 346.6 L206.8 351.0 L207.8 360.0 L208.9 358.7 L209.8 364.7 L210.4 395.0 L210.8 440.0 L211.9 468.8 L213.9 469.5 L216.1 468.8 L218.4 467.3 L220.6 469.5 L222.0 470.3 L224.0 473.4 L225.0 469.5 L228.0 468.8 L231.0 467.3 L232.2 463.5 L233.3 440.2 L234.3 425.1 L235.2 410.0 L235.8 395.0 L236.7 358.7 L237.8 355.7 L238.9 339.1 L240.1 333.8 L241.3 345.0 L242.3 360.2 L243.4 370.7 L244.6 357.2 L245.8 337.6 L246.8 327.0 L247.6 325.5 L248.3 337.6 L248.8 367.7 L249.4 395.0 L250.3 440.2 L251.4 467.3 L252.9 464.3 L254.4 468.8 L256.6 467.3 L258.9 469.5 L261.0 471.8 L263.0 473.4 L264.0 468.8 L267.0 470.3 L270.0 465.8 L271.5 462.8 L272.3 467.3 L273.3 440.2 L274.5 417.6 L275.7 395.0 L276.8 364.7 L277.9 361.7 L279.1 367.7 L280.3 360.2 L281.3 349.6 L282.1 348.9 L282.8 357.2 L283.6 366.2 L285.1 358.7 L286.3 355.7 L287.3 363.2 L288.1 367.7 L288.8 395.0 L289.6 440.2 L290.4 467.3 L291.9 468.8 L294.1 467.3 L296.4 469.5 L299.0 468.7 L301.0 469.0 L303.0 470.3 L304.5 458.3 L305.3 451.5 L306.0 455.2 L307.2 467.3 L308.3 470.3 L309.8 468.8 L311.3 464.3 L312.3 465.8 L313.5 455.2 L314.7 441.7 L315.8 428.1 L316.9 410.0 L317.3 395.0 L318.1 363.2 L318.8 351.1 L319.6 352.7 L320.3 349.6 L321.1 337.6 L321.8 330.0 L322.6 339.1 L323.3 349.6 L324.1 357.2 L324.8 361.7 L325.6 364.7 L326.3 375.2 L327.1 395.0 L328.3 440.2 L329.4 470.3 L331.6 468.8 L333.9 469.5 L336.1 468.8 L338.0 473.4 L340.0 471.8 L342.0 468.8 L344.3 470.3 L346.5 468.8 L348.8 470.3 L350.3 467.3 L351.0 440.2 L351.8 410.0 L352.5 395.0 L353.3 360.2 L354.0 345.1 L355.3 339.8 L356.3 338.3 L357.4 337.6 L358.3 331.6 L359.3 324.8 L360.4 330.0 L361.3 333.0 L362.3 333.8 L363.4 340.6 L364.3 349.6 L365.3 360.2 L366.4 375.2 L367.6 395.0 L368.8 440.2 L369.9 467.3 L371.4 470.3 L373.6 468.8 L375.9 470.3 L378.0 471.8 L380.0 471.0 L383.0 471.5 L386.0 470.5 L387.8 471.6 L389.4 468.4 L390.9 463.8 L392.5 441.9 L394.0 410.6 L395.0 380.0 L395.8 316.5 L397.0 317.0 L398.0 330.0 L399.3 345.0 L400.3 346.6 L401.1 351.0 L402.3 364.7 L403.3 360.0 L404.4 358.7 L405.6 370.7 L406.8 387.3 L407.4 395.0 L408.1 410.0 L408.9 441.9 L409.7 470.0 L410.5 473.0 L412.0 462.0 L413.6 466.0 L416.4 465.0 L419.4 462.6 L422.4 459.6 L424.0 462.6 L425.5 459.6 L427.0 453.6 L427.5 451.7 L428.0 465.0 L429.5 455.0 L430.5 445.0 L432.0 425.0 L433.2 405.0 L433.6 385.0 L433.9 365.0 L434.6 345.0 L435.3 336.0 L435.8 333.4 L436.8 336.0 L437.5 339.0 L439.6 351.0 L441.5 363.0 L443.0 375.0 L444.5 363.0 L445.6 360.0 L446.3 370.0 L447.0 405.0 L448.0 445.0 L449.0 465.0 L450.0 468.0 L451.0 468.7 L453.0 470.3 L455.0 468.7 L457.0 470.3 L459.0 468.7 L461.0 470.3 L462.0 468.8 L464.3 467.3 L466.5 470.3 L468.3 468.8 L469.5 465.8 L470.3 467.3 L471.3 440.2 L472.2 410.0 L473.3 395.0 L474.0 360.2 L475.3 354.9 L476.3 358.7 L477.4 363.2 L478.6 366.2 L479.8 366.2 L480.8 367.0 L481.9 360.2 L482.8 345.1 L483.5 327.0 L484.3 318.0 L484.9 330.0 L485.3 360.2 L486.1 395.0 L486.8 440.2 L487.9 464.3 L489.1 462.8 L490.6 467.3 L492.1 465.8 L494.4 468.8 L496.6 470.3 L498.0 470.3 L500.0 471.8 L502.0 470.3 L504.0 471.0 L505.0 473.0 L506.0 470.0 L506.8 420.0 L507.5 385.0 L508.3 370.7 L509.0 385.0 L509.8 420.0 L510.6 468.0 L511.4 473.0 L512.5 440.0 L513.5 410.0 L514.5 395.0 L515.3 345.0 L516.3 333.0 L517.3 325.5 L519.1 330.0 L520.6 345.0 L522.1 364.7 L523.3 369.2 L524.8 363.2 L525.9 375.2 L526.6 395.0 L527.5 440.0 L528.6 470.0 L530.0 469.0 L532.0 471.8 L534.0 468.5 L536.0 470.3 L538.0 471.8 L540.0 470.3 L541.0 468.8 L543.3 467.3 L545.5 470.3 L547.0 467.3 L548.2 459.8 L549.3 440.2 L550.3 417.6 L551.5 395.0 L552.3 360.2 L553.0 348.1 L554.3 347.4 L555.3 345.1 L556.4 333.0 L557.3 324.0 L557.9 321.0 L558.8 328.6 L559.4 345.1 L560.3 360.2 L561.3 369.2 L562.4 369.2 L563.3 367.7 L563.9 375.2 L564.8 395.0 L565.8 440.2 L566.9 468.8 L568.9 470.3 L571.1 467.3 L573.4 469.5 L575.6 468.0 L578.0 469.0 L580.0 467.5 L581.0 465.8 L582.5 467.3 L584.0 470.3 L585.5 465.8 L587.0 468.8 L588.5 462.8 L590.0 452.2 L591.5 446.2 L593.0 437.2 L593.8 435.7 L594.6 425.1 L595.3 410.0 L596.1 395.0 L596.8 380.0 L597.6 367.7 L598.3 345.1 L599.1 341.4 L599.8 345.1 L600.6 360.2 L601.3 378.3 L602.1 395.0 L602.8 400.0 L603.6 410.0 L604.3 422.1 L605.1 440.2 L605.8 462.8 L606.6 471.8 L608.1 470.3 L609.6 467.3 L611.1 468.8 L612.6 471.8 L614.9 470.3 L616.5 470.0" fill="none" stroke="#d8101a" stroke-width="1.9" stroke-linejoin="round" stroke-linecap="round" clip-path="url(#cc)"/>
<line x1="63.4" y1="0.3" x2="63.4" y2="475.6" stroke="#555" stroke-width="1.1"/>
<line x1="616.3" y1="0" x2="616.3" y2="475.6" stroke="#222" stroke-width="1.1"/>
<line x1="63.4" y1="0.5" x2="615.9799999999999" y2="0.5" stroke="#222" stroke-width="1.1"/>
<line x1="63.4" y1="158.9" x2="615.9799999999999" y2="158.9" stroke="#666" stroke-width="1.1"/>
<line x1="63.4" y1="317.3" x2="615.9799999999999" y2="317.3" stroke="#333" stroke-width="1.1"/>
<line x1="63.4" y1="475.6" x2="615.9799999999999" y2="475.6" stroke="#555" stroke-width="1.1"/>
<line x1="63.40" y1="158.9" x2="63.40" y2="162.9" stroke="#555" stroke-width="1"/>
<line x1="102.87" y1="158.9" x2="102.87" y2="162.9" stroke="#555" stroke-width="1"/>
<line x1="142.34" y1="158.9" x2="142.34" y2="162.9" stroke="#555" stroke-width="1"/>
<line x1="181.81" y1="158.9" x2="181.81" y2="162.9" stroke="#555" stroke-width="1"/>
<line x1="221.28" y1="158.9" x2="221.28" y2="162.9" stroke="#555" stroke-width="1"/>
<line x1="260.75" y1="158.9" x2="260.75" y2="162.9" stroke="#555" stroke-width="1"/>
<line x1="300.22" y1="158.9" x2="300.22" y2="162.9" stroke="#555" stroke-width="1"/>
<line x1="339.69" y1="158.9" x2="339.69" y2="162.9" stroke="#555" stroke-width="1"/>
<line x1="379.16" y1="158.9" x2="379.16" y2="162.9" stroke="#555" stroke-width="1"/>
<line x1="418.63" y1="158.9" x2="418.63" y2="162.9" stroke="#555" stroke-width="1"/>
<line x1="458.10" y1="158.9" x2="458.10" y2="162.9" stroke="#555" stroke-width="1"/>
<line x1="497.57" y1="158.9" x2="497.57" y2="162.9" stroke="#555" stroke-width="1"/>
<line x1="537.04" y1="158.9" x2="537.04" y2="162.9" stroke="#555" stroke-width="1"/>
<line x1="576.51" y1="158.9" x2="576.51" y2="162.9" stroke="#555" stroke-width="1"/>
<line x1="615.98" y1="158.9" x2="615.98" y2="162.9" stroke="#555" stroke-width="1"/>
<line x1="63.40" y1="317.3" x2="63.40" y2="321.3" stroke="#555" stroke-width="1"/>
<line x1="102.87" y1="317.3" x2="102.87" y2="321.3" stroke="#555" stroke-width="1"/>
<line x1="142.34" y1="317.3" x2="142.34" y2="321.3" stroke="#555" stroke-width="1"/>
<line x1="181.81" y1="317.3" x2="181.81" y2="321.3" stroke="#555" stroke-width="1"/>
<line x1="221.28" y1="317.3" x2="221.28" y2="321.3" stroke="#555" stroke-width="1"/>
<line x1="260.75" y1="317.3" x2="260.75" y2="321.3" stroke="#555" stroke-width="1"/>
<line x1="300.22" y1="317.3" x2="300.22" y2="321.3" stroke="#555" stroke-width="1"/>
<line x1="339.69" y1="317.3" x2="339.69" y2="321.3" stroke="#555" stroke-width="1"/>
<line x1="379.16" y1="317.3" x2="379.16" y2="321.3" stroke="#555" stroke-width="1"/>
<line x1="418.63" y1="317.3" x2="418.63" y2="321.3" stroke="#555" stroke-width="1"/>
<line x1="458.10" y1="317.3" x2="458.10" y2="321.3" stroke="#555" stroke-width="1"/>
<line x1="497.57" y1="317.3" x2="497.57" y2="321.3" stroke="#555" stroke-width="1"/>
<line x1="537.04" y1="317.3" x2="537.04" y2="321.3" stroke="#555" stroke-width="1"/>
<line x1="576.51" y1="317.3" x2="576.51" y2="321.3" stroke="#555" stroke-width="1"/>
<line x1="615.98" y1="317.3" x2="615.98" y2="321.3" stroke="#555" stroke-width="1"/>
<line x1="63.40" y1="475.6" x2="63.40" y2="479.6" stroke="#555" stroke-width="1"/>
<line x1="102.87" y1="475.6" x2="102.87" y2="479.6" stroke="#555" stroke-width="1"/>
<line x1="142.34" y1="475.6" x2="142.34" y2="479.6" stroke="#555" stroke-width="1"/>
<line x1="181.81" y1="475.6" x2="181.81" y2="479.6" stroke="#555" stroke-width="1"/>
<line x1="221.28" y1="475.6" x2="221.28" y2="479.6" stroke="#555" stroke-width="1"/>
<line x1="260.75" y1="475.6" x2="260.75" y2="479.6" stroke="#555" stroke-width="1"/>
<line x1="300.22" y1="475.6" x2="300.22" y2="479.6" stroke="#555" stroke-width="1"/>
<line x1="339.69" y1="475.6" x2="339.69" y2="479.6" stroke="#555" stroke-width="1"/>
<line x1="379.16" y1="475.6" x2="379.16" y2="479.6" stroke="#555" stroke-width="1"/>
<line x1="418.63" y1="475.6" x2="418.63" y2="479.6" stroke="#555" stroke-width="1"/>
<line x1="458.10" y1="475.6" x2="458.10" y2="479.6" stroke="#555" stroke-width="1"/>
<line x1="497.57" y1="475.6" x2="497.57" y2="479.6" stroke="#555" stroke-width="1"/>
<line x1="537.04" y1="475.6" x2="537.04" y2="479.6" stroke="#555" stroke-width="1"/>
<line x1="576.51" y1="475.6" x2="576.51" y2="479.6" stroke="#555" stroke-width="1"/>
<line x1="615.98" y1="475.6" x2="615.98" y2="479.6" stroke="#555" stroke-width="1"/>
<line x1="59.4" y1="139.08" x2="63.4" y2="139.08" stroke="#555" stroke-width="1"/>
<text x="52.0" y="144.38" text-anchor="end" class="t" style="font-size:15.2px">37</text>
<line x1="59.4" y1="99.43" x2="63.4" y2="99.43" stroke="#555" stroke-width="1"/>
<text x="52.0" y="104.73" text-anchor="end" class="t" style="font-size:15.2px">38</text>
<line x1="59.4" y1="59.78" x2="63.4" y2="59.78" stroke="#555" stroke-width="1"/>
<text x="52.0" y="65.08" text-anchor="end" class="t" style="font-size:15.2px">39</text>
<line x1="59.4" y1="20.12" x2="63.4" y2="20.12" stroke="#555" stroke-width="1"/>
<text x="52.0" y="25.43" text-anchor="end" class="t" style="font-size:15.2px">40</text>
<line x1="59.4" y1="317.30" x2="63.4" y2="317.30" stroke="#555" stroke-width="1"/>
<text x="52.0" y="322.60" text-anchor="end" class="t" style="font-size:15.2px">-20</text>
<line x1="59.4" y1="285.62" x2="63.4" y2="285.62" stroke="#555" stroke-width="1"/>
<text x="52.0" y="290.92" text-anchor="end" class="t" style="font-size:15.2px">-10</text>
<line x1="59.4" y1="253.94" x2="63.4" y2="253.94" stroke="#555" stroke-width="1"/>
<text x="52.0" y="259.24" text-anchor="end" class="t" style="font-size:15.2px">0</text>
<line x1="59.4" y1="222.26" x2="63.4" y2="222.26" stroke="#555" stroke-width="1"/>
<text x="52.0" y="227.56" text-anchor="end" class="t" style="font-size:15.2px">10</text>
<line x1="59.4" y1="190.58" x2="63.4" y2="190.58" stroke="#555" stroke-width="1"/>
<text x="52.0" y="195.88" text-anchor="end" class="t" style="font-size:15.2px">20</text>
<line x1="59.4" y1="475.60" x2="63.4" y2="475.60" stroke="#555" stroke-width="1"/>
<text x="52.0" y="480.90" text-anchor="end" class="t" style="font-size:15.2px">0</text>
<line x1="59.4" y1="443.94" x2="63.4" y2="443.94" stroke="#555" stroke-width="1"/>
<text x="52.0" y="449.24" text-anchor="end" class="t" style="font-size:15.2px">20</text>
<line x1="59.4" y1="412.28" x2="63.4" y2="412.28" stroke="#555" stroke-width="1"/>
<text x="52.0" y="417.58" text-anchor="end" class="t" style="font-size:15.2px">40</text>
<line x1="59.4" y1="380.62" x2="63.4" y2="380.62" stroke="#555" stroke-width="1"/>
<text x="52.0" y="385.92" text-anchor="end" class="t" style="font-size:15.2px">60</text>
<line x1="59.4" y1="348.96" x2="63.4" y2="348.96" stroke="#555" stroke-width="1"/>
<text x="52.0" y="354.26" text-anchor="end" class="t" style="font-size:15.2px">80</text>
<text x="63.40" y="497.4" text-anchor="middle" class="t">1</text>
<text x="102.87" y="497.4" text-anchor="middle" class="t">2</text>
<text x="142.34" y="497.4" text-anchor="middle" class="t">3</text>
<text x="181.81" y="497.4" text-anchor="middle" class="t">4</text>
<text x="221.28" y="497.4" text-anchor="middle" class="t">5</text>
<text x="260.75" y="497.4" text-anchor="middle" class="t">6</text>
<text x="300.22" y="497.4" text-anchor="middle" class="t">7</text>
<text x="339.69" y="497.4" text-anchor="middle" class="t">8</text>
<text x="379.16" y="497.4" text-anchor="middle" class="t">9</text>
<text x="418.63" y="497.4" text-anchor="middle" class="t">10</text>
<text x="458.10" y="497.4" text-anchor="middle" class="t">11</text>
<text x="497.57" y="497.4" text-anchor="middle" class="t">12</text>
<text x="537.04" y="497.4" text-anchor="middle" class="t">13</text>
<text x="576.51" y="497.4" text-anchor="middle" class="t">14</text>
<text x="615.98" y="497.4" text-anchor="middle" class="t">15</text>
<text x="339.69" y="527.4" text-anchor="middle" class="l" style="font-size:17.8px">Days</text>
<text x="68.3" y="16.5" class="p">a</text>
<text x="68.3" y="174.6" class="p">b</text>
<text x="68.3" y="333.5" class="p">c</text>
<text transform="translate(12.8 80) rotate(-90)" text-anchor="middle" class="l">T<tspan font-size="11" dy="5">r</tspan><tspan dy="-5"> (°C)</tspan></text>
<text transform="translate(14 240) rotate(-90)" text-anchor="middle" class="l">T<tspan font-size="11" dy="5.8">a</tspan><tspan dy="-5.8"> (°C)</tspan></text>
<text transform="translate(18 394) rotate(-90)" text-anchor="middle" class="l">Activity (%)</text>
</svg>
</body></html>
